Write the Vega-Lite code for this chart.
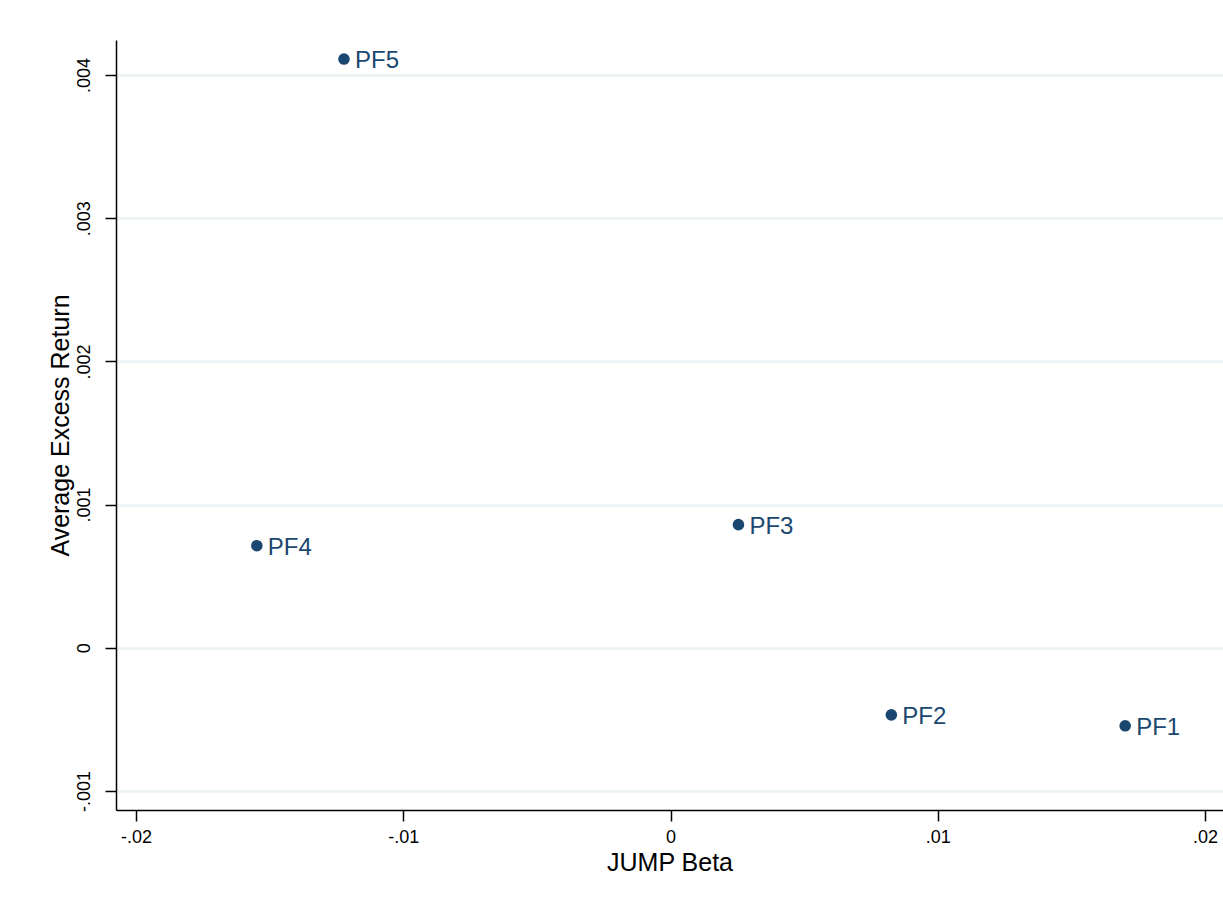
{
  "$schema": "https://vega.github.io/schema/vega-lite/v6.json",
  "autosize": {"type": "none"},
  "width": 1107,
  "height": 770,
  "padding": {"left": 116, "top": 40, "right": 0, "bottom": 102},
  "background": "white",
  "config": {
    "view": {"stroke": null},
    "font": "Liberation Sans"
  },
  "data": {
    "values": [
      {"beta": 0.01701, "ret": -0.000545, "pf": "PF1"},
      {"beta": 0.00826, "ret": -0.000469, "pf": "PF2"},
      {"beta": 0.00254, "ret": 0.00086, "pf": "PF3"},
      {"beta": -0.01548, "ret": 0.000713, "pf": "PF4"},
      {"beta": -0.01222, "ret": 0.004112, "pf": "PF5"}
    ]
  },
  "encoding": {
    "x": {
      "field": "beta", "type": "quantitative",
      "scale": {"domain": [-0.02075, 0.02067], "nice": false, "zero": false},
      "axis": {
        "title": "JUMP Beta", "titleFontSize": 25, "titleFontWeight": "normal", "titleColor": "black", "titlePadding": 4,
        "values": [-0.02, -0.01, 0, 0.01, 0.02],
        "labelExpr": "datum.value == 0 ? '0' : replace(replace(format(datum.value, '~g'), '0.', '.'), '\u2212', '-')",
        "labelFontSize": 18, "labelColor": "black", "labelPadding": 7,
        "grid": false, "domainColor": "black", "domainWidth": 1.5,
        "tickColor": "black", "tickWidth": 1.5, "tickSize": 11
      }
    },
    "y": {
      "field": "ret", "type": "quantitative",
      "scale": {"domain": [-0.001133, 0.004245], "nice": false, "zero": false},
      "axis": {
        "title": "Average Excess Return", "titleFontSize": 25, "titleFontWeight": "normal", "titleColor": "black", "titlePadding": 2,
        "values": [-0.001, 0, 0.001, 0.002, 0.003, 0.004],
        "labelExpr": "datum.value == 0 ? '0' : replace(replace(format(datum.value, '~g'), '0.', '.'), '\u2212', '-')",
        "labelFontSize": 18, "labelColor": "black", "labelAngle": 270, "labelAlign": "center", "labelBaseline": "bottom", "labelPadding": 12,
        "grid": true, "gridColor": "#eaf0f3", "gridWidth": 2.5,
        "domainColor": "black", "domainWidth": 1.5,
        "tickColor": "black", "tickWidth": 1.5, "tickSize": 11
      }
    }
  },
  "layer": [
    {
      "mark": {"type": "point", "filled": true, "shape": "circle", "size": 135, "color": "#1a476f", "opacity": 1}
    },
    {
      "mark": {"type": "text", "align": "left", "baseline": "middle", "dx": 11, "dy": 2, "fontSize": 24, "color": "#1a476f"},
      "encoding": {"text": {"field": "pf"}}
    }
  ]
}
